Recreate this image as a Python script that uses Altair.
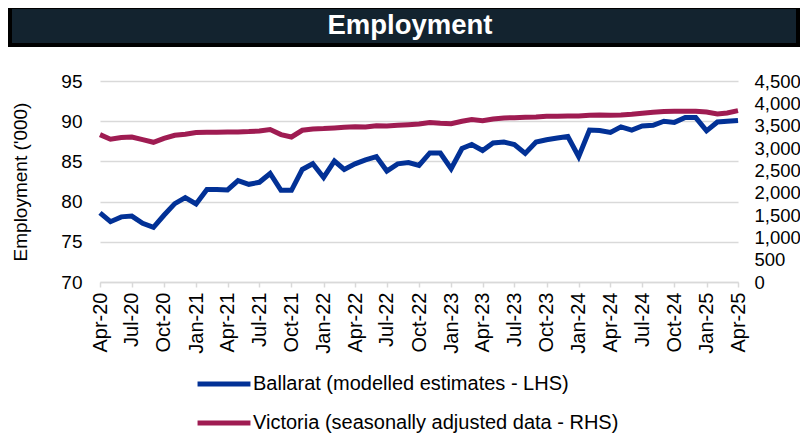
import altair as alt
import pandas as pd

FONT = "Liberation Sans"
BLUE = "#023196"
MAROON = "#9F1C52"
S1 = "Ballarat (modelled estimates - LHS)"
S2 = "Victoria (seasonally adjusted data - RHS)"
TITLE = "Employment"

months = [d.strftime("%Y-%m-%d") for d in pd.date_range("2020-04-01", "2025-04-01", freq="MS")]
tick_dates = pd.date_range("2020-04-01", "2025-04-01", freq="3MS")

ballarat = [78.6, 77.5, 78.1, 78.2, 77.3, 76.8, 78.3, 79.75, 80.5, 79.7,
            81.5, 81.5, 81.45, 82.6, 82.15, 82.4, 83.5, 81.4, 81.4, 84.0,
            84.7, 83.0, 85.05, 84.0, 84.7, 85.2, 85.6, 83.8, 84.7, 84.85,
            84.5, 86.05, 86.05, 84.1, 86.6, 87.1, 86.35, 87.3, 87.4, 87.1,
            86.0, 87.4, 87.7, 87.9, 88.1, 85.6, 88.9, 88.85, 88.6, 89.3,
            88.9, 89.4, 89.5, 90.0, 89.85, 90.45, 90.45, 88.8, 89.9, 90.0,
            90.1]
victoria = [3300, 3195, 3233, 3247, 3188, 3128, 3217, 3285, 3307, 3345,
            3352, 3352, 3357, 3359, 3367, 3381, 3412, 3300, 3247, 3397,
            3426, 3434, 3448, 3465, 3475, 3470, 3500, 3493, 3508, 3523,
            3537, 3568, 3553, 3545, 3598, 3635, 3610, 3650, 3672, 3680,
            3687, 3694, 3710, 3710, 3717, 3717, 3732, 3739, 3735, 3739,
            3755, 3777, 3800, 3815, 3822, 3822, 3822, 3807, 3762, 3784,
            3837]
left_ticks = [70, 75, 80, 85, 90, 95]
right_ticks = [0, 500, 1000, 1500, 2000, 2500, 3000, 3500, 4000, 4500]


def ms(ts):
    return int((ts - pd.Timestamp("1970-01-01")) // pd.Timedelta("1ms"))


tick_ms = [ms(d) for d in tick_dates]
x_domain = [ms(pd.Timestamp(months[0])), ms(pd.Timestamp(months[-1]))]

df_b = pd.DataFrame({"date": months, "series": S1, "value": ballarat})
df_v = pd.DataFrame({"date": months, "series": S2, "value": victoria})

x = alt.X(
    "date:T",
    scale=alt.Scale(type="utc", domain=x_domain, nice=False),
    axis=alt.Axis(
        values=tick_ms, labelExpr="utcFormat(datum.value, '%b-%y')", labelAngle=-90,
        title=None, grid=False, domainColor="#d9d9d9", domainWidth=1.5,
        tickColor="#d9d9d9", tickWidth=1.5, tickSize=5, labelPadding=5,
        labelFontSize=20, labelColor="#000000", labelFont=FONT,
    ),
)

color = alt.Color(
    "series:N",
    scale=alt.Scale(domain=[S1, S2], range=[BLUE, MAROON]),
    legend=alt.Legend(
        title=None, orient="none", legendX=95, legendY=274, direction="vertical",
        symbolType="stroke", symbolSize=2800, symbolStrokeWidth=5,
        labelFont=FONT, labelFontSize=20, labelColor="#000000", labelLimit=0,
        labelOffset=0, padding=0, rowPadding=-3,
    ),
)

vic = alt.Chart(df_v).mark_line(strokeWidth=5).encode(
    x=x,
    y=alt.Y(
        "value:Q",
        scale=alt.Scale(domain=[0, 4500], nice=False, zero=False),
        axis=alt.Axis(
            orient="right", values=right_ticks, labelExpr="format(datum.value, ',d')",
            title=None, grid=False, domain=False, ticks=False, labelPadding=16,
            labelFontSize=18.5, labelColor="#000000", labelFont=FONT,
        ),
    ),
    color=color,
)

bal = alt.Chart(df_b).mark_line(strokeWidth=5).encode(
    x=x,
    y=alt.Y(
        "value:Q",
        scale=alt.Scale(domain=[70, 95], nice=False, zero=False),
        axis=alt.Axis(
            orient="left", values=left_ticks, labelExpr="format(datum.value, 'd')",
            title="Employment ('000)",
            grid=True, gridColor="#d9d9d9", gridWidth=1.5, domain=False, ticks=False,
            labelPadding=18, labelFontSize=19, labelColor="#000000", labelFont=FONT,
            titleFont=FONT, titleFontSize=19, titleFontWeight="normal", titleColor="#000000",
            titleX=-70, titleY=100.5, titleAngle=270, titleAlign="center", titleBaseline="bottom",
        ),
    ),
    color=color,
)

title_df = pd.DataFrame({"t": [TITLE]})
banner = alt.Chart(title_df).mark_rect(fill="#13232f", stroke="#000000", strokeWidth=4).encode(
    x=alt.value(-90), x2=alt.value(698), y=alt.value(-74), y2=alt.value(-36)
)
banner_text = alt.Chart(title_df).mark_text(
    font=FONT, fontSize=27.5, fontWeight="bold", color="#ffffff", align="center", baseline="middle"
).encode(x=alt.value(310), y=alt.value(-55), text="t:N")

chart = (
    alt.layer(vic, bal, banner, banner_text)
    .resolve_scale(y="independent")
    .properties(
        width=638, height=201,
        autosize=alt.AutoSizeParams(type="none"),
        padding={"left": 92, "top": 73, "right": 62, "bottom": 151},
    )
    .configure_view(stroke=None)
)

chart.save("out.html", embed_options={"renderer": "svg", "actions": False})
